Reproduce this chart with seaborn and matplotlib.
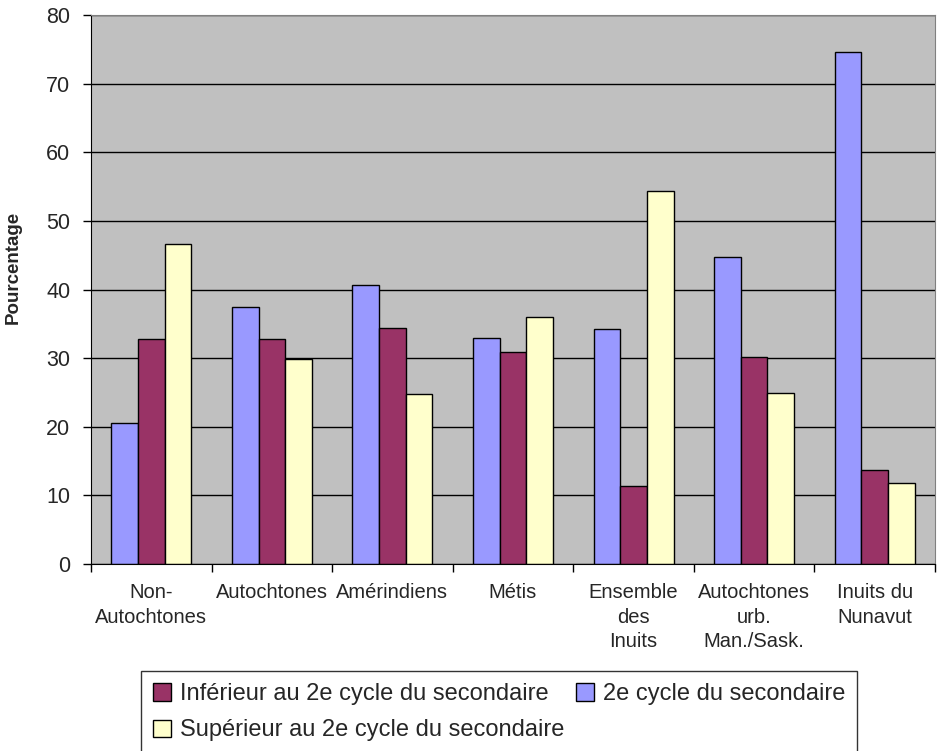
import pandas as pd
import matplotlib
matplotlib.use("Agg")
import matplotlib.pyplot as plt
import seaborn as sns

groups = ['Non-\nAutochtones', 'Autochtones', 'Amérindiens', 'Métis',
          'Ensemble\ndes\nInuits', 'Autochtones\nurb.\nMan./Sask.', 'Inuits du\nNunavut']
series = ['2e cycle du secondaire', 'Inférieur au 2e cycle du secondaire',
          'Supérieur au 2e cycle du secondaire']
deuxieme_cycle = [20.5, 37.5, 40.7, 32.9, 34.3, 44.7, 74.6]
inferieur = [32.8, 32.8, 34.4, 30.9, 11.3, 30.2, 13.7]
superieur = [46.6, 29.8, 24.8, 36.0, 54.4, 24.9, 11.8]
colors = ['#9999FF', '#993366', '#FFFFCC']

rows = []
for name, vals in zip(series, [deuxieme_cycle, inferieur, superieur]):
    for g, v in zip(groups, vals):
        rows.append({'groupe': g, 'niveau': name, 'pct': v})
df = pd.DataFrame(rows)

sns.set_style('white')
plt.rcParams['font.family'] = ['Liberation Sans', 'DejaVu Sans']

fig = plt.figure(figsize=(9.42, 7.51), dpi=100)
ax = fig.add_axes([91 / 942, 1 - 564 / 751, 844 / 942, 549 / 751])
ax.set_facecolor('#C0C0C0')

sns.barplot(data=df, x='groupe', y='pct', hue='niveau', hue_order=series,
            palette=colors, width=0.663, gap=0, edgecolor='black', linewidth=1,
            saturation=1, ax=ax, legend=True)

ax.set_ylim(0, 80)
ax.set_xlim(-0.5, len(groups) - 0.5)
ax.set_yticks(range(0, 81, 10))
ax.yaxis.grid(True, color='black', linewidth=1)
ax.set_axisbelow(True)
ax.tick_params(axis='y', labelsize=15.5, length=6, width=1, direction='out',
               pad=9, left=True, color='black')
ax.set_xticks(range(len(groups)))
ax.set_xticklabels(groups, fontsize=14.5, linespacing=1.35)
ax.tick_params(axis='x', length=0, pad=14)
ax.set_xticks([i - 0.5 for i in range(len(groups) + 1)], minor=True)
ax.tick_params(axis='x', which='minor', length=6, width=1, direction='out',
               bottom=True, color='black')

for s in ['left', 'bottom']:
    ax.spines[s].set_color('black')
for s in ['top', 'right']:
    ax.spines[s].set_color('#808080')

ax.set_xlabel('')
ax.set_ylabel('Pourcentage', fontsize=13.5, fontweight='bold')
ax.yaxis.set_label_coords(-0.082, 0.54)

handles, labels = ax.get_legend_handles_labels()
ax.get_legend().remove()
order = [1, 2, 0]
leg = fig.legend([handles[i] for i in order], [labels[i] for i in order],
                 loc='lower left', bbox_to_anchor=(141 / 942, -0.003), ncol=2,
                 fontsize=17, frameon=True, fancybox=False, edgecolor='black',
                 handlelength=0.75, handleheight=0.75, handletextpad=0.4,
                 columnspacing=0.5, labelspacing=0.6, borderpad=0.5,
                 borderaxespad=0)
leg.get_frame().set_linewidth(1)

fig.savefig('out.png', dpi=100)
